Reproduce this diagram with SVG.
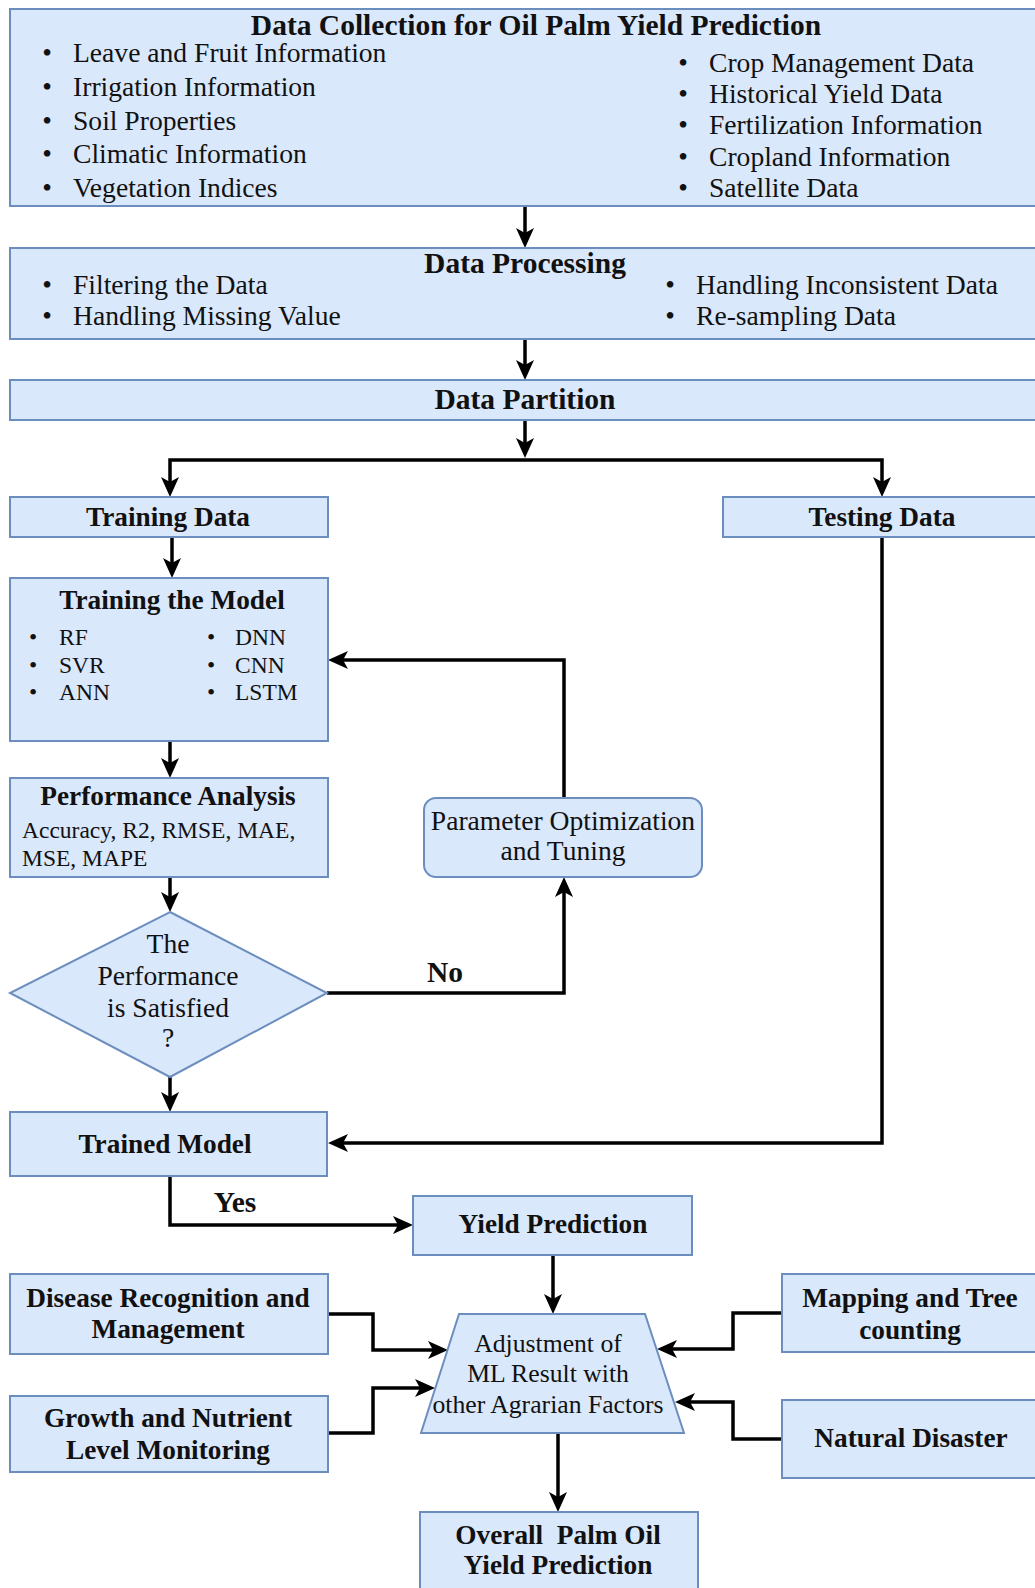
<svg xmlns="http://www.w3.org/2000/svg" width="1035" height="1588" viewBox="0 0 1035 1588">
<style>
.box{fill:#dae8fc;stroke:#6c8ebf;stroke-width:2}
.t{font-family:"Liberation Serif","Times New Roman",serif;fill:#111}
.b{font-weight:bold}
.c{text-anchor:middle}
.h1{font-size:29.5px}
.h2{font-size:27.3px}
.r1{font-size:27.6px}
.r2{font-size:23.5px}
.r3{font-size:25.7px}
.lbl{font-size:29.5px}
.con{fill:none;stroke:#000;stroke-width:3.5;marker-end:url(#arr)}
</style>
<defs>
<marker id="arr" markerUnits="userSpaceOnUse" markerWidth="24" markerHeight="20" refX="5" refY="10" orient="auto" overflow="visible">
<path d="M0,1 L20,10 L0,19 L5,10 Z" fill="#000"/>
</marker>
</defs>
<rect width="1035" height="1588" fill="#fff"/>

<g id="connectors">
<path class="con" d="M525,206 V233"/>
<path class="con" d="M525,339 V365"/>
<path class="con" d="M525,420 V443"/>
<path class="con" d="M525,460 H170 V482"/>
<path class="con" d="M525,460 H882 V482"/>
<path class="con" d="M172,537 V563"/>
<path class="con" d="M170,741 V763"/>
<path class="con" d="M170,877 V897"/>
<path class="con" d="M170,1077 V1097"/>
<path class="con" d="M327,993 H564 V892"/>
<path class="con" d="M564,798 V660 H343"/>
<path class="con" d="M882,537 V1143 H343"/>
<path class="con" d="M170,1176 V1225 H398"/>
<path class="con" d="M553,1255 V1299"/>
<path class="con" d="M328,1314 H373 V1350 H433"/>
<path class="con" d="M328,1433 H373 V1388 H420"/>
<path class="con" d="M782,1313 H733 V1349 H672"/>
<path class="con" d="M782,1439 H733 V1402 H690"/>
<path class="con" d="M558,1433 V1497"/>
<text class="t b c lbl" x="445" y="982">No</text>
<text class="t b c lbl" x="235" y="1212">Yes</text>
</g>

<g id="data-collection">
<rect class="box" x="10" y="9" width="1040" height="197"/>
<text class="t b c h1" x="536" y="35">Data Collection for Oil Palm Yield Prediction</text>
<g class="t r1">
<text x="47" y="62" class="c">•</text><text x="73" y="62">Leave and Fruit Information</text>
<text x="47" y="96" class="c">•</text><text x="73" y="96">Irrigation Information</text>
<text x="47" y="130" class="c">•</text><text x="73" y="130">Soil Properties</text>
<text x="47" y="163" class="c">•</text><text x="73" y="163">Climatic Information</text>
<text x="47" y="197" class="c">•</text><text x="73" y="197">Vegetation Indices</text>
<text x="683" y="72" class="c">•</text><text x="709" y="72">Crop Management Data</text>
<text x="683" y="103" class="c">•</text><text x="709" y="103">Historical Yield Data</text>
<text x="683" y="134" class="c">•</text><text x="709" y="134">Fertilization Information</text>
<text x="683" y="166" class="c">•</text><text x="709" y="166">Cropland Information</text>
<text x="683" y="197" class="c">•</text><text x="709" y="197">Satellite Data</text>
</g>
</g>

<g id="data-processing">
<rect class="box" x="10" y="248" width="1040" height="91"/>
<text class="t b c h1" x="525" y="273">Data Processing</text>
<g class="t r1">
<text x="47" y="294" class="c">•</text><text x="73" y="294">Filtering the Data</text>
<text x="47" y="325" class="c">•</text><text x="73" y="325">Handling Missing Value</text>
<text x="670" y="294" class="c">•</text><text x="696" y="294">Handling Inconsistent Data</text>
<text x="670" y="325" class="c">•</text><text x="696" y="325">Re-sampling Data</text>
</g>
</g>

<g id="data-partition">
<rect class="box" x="10" y="380" width="1040" height="40"/>
<text class="t b c h1" x="525" y="409">Data Partition</text>
</g>

<g id="training-data">
<rect class="box" x="10" y="497" width="318" height="40"/>
<text class="t b c h2" x="168" y="526">Training Data</text>
</g>

<g id="testing-data">
<rect class="box" x="723" y="497" width="330" height="40"/>
<text class="t b c h2" x="882" y="526">Testing Data</text>
</g>

<g id="training-model">
<rect class="box" x="10" y="578" width="318" height="163"/>
<text class="t b c h2" x="172" y="609">Training the Model</text>
<g class="t r2">
<text x="33" y="645" class="c">•</text><text x="59" y="645">RF</text>
<text x="33" y="673" class="c">•</text><text x="59" y="673">SVR</text>
<text x="33" y="700" class="c">•</text><text x="59" y="700">ANN</text>
<text x="211" y="645" class="c">•</text><text x="235" y="645">DNN</text>
<text x="211" y="673" class="c">•</text><text x="235" y="673">CNN</text>
<text x="211" y="700" class="c">•</text><text x="235" y="700">LSTM</text>
</g>
</g>

<g id="performance-analysis">
<rect class="box" x="10" y="778" width="318" height="99"/>
<text class="t b c h2" x="168" y="805">Performance Analysis</text>
<text class="t r2" x="22" y="838">Accuracy, R2, RMSE, MAE,</text>
<text class="t r2" x="22" y="866">MSE, MAPE</text>
</g>

<g id="parameter-optimization">
<rect class="box" x="424" y="798" width="278" height="79" rx="12" ry="12"/>
<text class="t c r1" x="563" y="830">Parameter Optimization</text>
<text class="t c r1" x="563" y="860">and Tuning</text>
</g>

<g id="decision">
<polygon class="box" points="170,912 327,993 170,1077 10,993"/>
<text class="t c r1" x="168" y="953">The</text>
<text class="t c r1" x="168" y="985">Performance</text>
<text class="t c r1" x="168" y="1017">is Satisfied</text>
<text class="t c r1" x="168" y="1047">?</text>
</g>

<g id="trained-model">
<rect class="box" x="10" y="1112" width="317" height="64"/>
<text class="t b c h2" x="165" y="1153">Trained Model</text>
</g>

<g id="yield-prediction">
<rect class="box" x="413" y="1196" width="279" height="59"/>
<text class="t b c h2" x="553" y="1233">Yield Prediction</text>
</g>

<g id="disease">
<rect class="box" x="10" y="1274" width="318" height="80"/>
<text class="t b c h2" x="168" y="1307">Disease Recognition and</text>
<text class="t b c h2" x="168" y="1338">Management</text>
</g>

<g id="growth">
<rect class="box" x="10" y="1396" width="318" height="76"/>
<text class="t b c h2" x="168" y="1427">Growth and Nutrient</text>
<text class="t b c h2" x="168" y="1459">Level Monitoring</text>
</g>

<g id="adjustment">
<polygon class="box" points="459,1314 645,1314 684,1433 421,1433"/>
<text class="t c r3" x="548" y="1352">Adjustment of</text>
<text class="t c r3" x="548" y="1382">ML Result with</text>
<text class="t c r3" x="548" y="1413">other Agrarian Factors</text>
</g>

<g id="mapping">
<rect class="box" x="782" y="1274" width="270" height="78"/>
<text class="t b c h2" x="910" y="1307">Mapping and Tree</text>
<text class="t b c h2" x="910" y="1339">counting</text>
</g>

<g id="natural-disaster">
<rect class="box" x="782" y="1400" width="270" height="78"/>
<text class="t b c h2" x="911" y="1447">Natural Disaster</text>
</g>

<g id="overall">
<rect class="box" x="420" y="1512" width="278" height="90"/>
<text class="t b c h2" x="558" y="1544" style="white-space:pre">Overall  Palm Oil</text>
<text class="t b c h2" x="558" y="1574">Yield Prediction</text>
</g>
</svg>
